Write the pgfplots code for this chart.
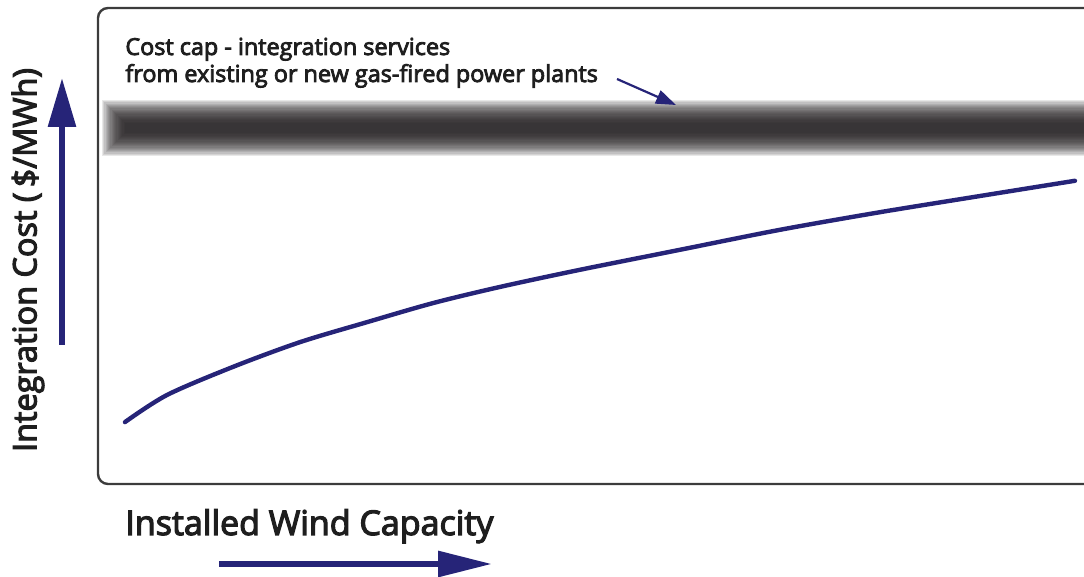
\documentclass[border=0pt]{standalone}
\usepackage{pgfplots}
\pgfplotsset{compat=1.18}
\usepackage{fontspec}
\setmainfont{Open Sans}
\newfontfamily\labelfont{Open Sans}[FakeBold=3.5]
\usetikzlibrary{arrows.meta}
\definecolor{navy}{RGB}{38,36,120}
\definecolor{framegray}{RGB}{60,60,60}
\definecolor{capgray}{RGB}{30,26,28}
\definecolor{txtgray}{RGB}{30,30,30}
\begin{document}
\begin{tikzpicture}
\path[use as bounding box] (0pt,0pt) rectangle (542pt,288.5pt);
\clip (0pt,0pt) rectangle (542pt,288.5pt);
\begin{axis}[
  name=ax,
  at={(49pt,46.5pt)}, anchor=south west,
  scale only axis, width=501pt, height=238pt,
  xmin=0, xmax=100, ymin=0, ymax=100,
  hide axis,
  capband/.style={capgray, opacity=0.1, forget plot},
]
% cost cap band (blurred)
\addplot[capband, line width=28pt] coordinates {(0.40,74.8) (100,74.8)};
\addplot[capband, line width=26.8pt] coordinates {(0.52,74.8) (100,74.8)};
\addplot[capband, line width=25.6pt] coordinates {(0.64,74.8) (100,74.8)};
\addplot[capband, line width=24.4pt] coordinates {(0.76,74.8) (100,74.8)};
\addplot[capband, line width=23.2pt] coordinates {(0.88,74.8) (100,74.8)};
\addplot[capband, line width=22pt] coordinates {(1.00,74.8) (100,74.8)};
\addplot[capband, line width=20.8pt] coordinates {(1.12,74.8) (100,74.8)};
\addplot[capband, line width=19.6pt] coordinates {(1.24,74.8) (100,74.8)};
\addplot[capband, line width=18.4pt] coordinates {(1.36,74.8) (100,74.8)};
\addplot[capband, line width=17.2pt] coordinates {(1.48,74.8) (100,74.8)};
\addplot[capband, line width=16pt] coordinates {(1.60,74.8) (100,74.8)};
\addplot[capband, line width=14.8pt] coordinates {(1.72,74.8) (100,74.8)};
\addplot[capband, line width=13.6pt] coordinates {(1.84,74.8) (100,74.8)};
\addplot[capband, line width=12.4pt] coordinates {(1.96,74.8) (100,74.8)};
\addplot[capband, line width=11.2pt] coordinates {(2.08,74.8) (100,74.8)};
\addplot[capband, line width=10pt] coordinates {(2.20,74.8) (100,74.8)};
\addplot[capband, line width=8.8pt] coordinates {(2.32,74.8) (100,74.8)};
\addplot[capband, line width=7.6pt] coordinates {(2.44,74.8) (100,74.8)};
\addplot[capband, line width=6.4pt] coordinates {(2.56,74.8) (100,74.8)};
\addplot[capband, line width=5.2pt] coordinates {(2.68,74.8) (100,74.8)};
% integration cost curve
\addplot[navy, line width=2.2pt, smooth, line cap=round] coordinates {
 (2.69,13.0) (6.89,18.7) (13.47,24.6) (20.16,29.8) (26.85,34.0) (33.43,38.0)
 (40.12,41.4) (48.10,45.0) (58.08,49.2) (68.06,53.4) (78.04,57.1) (88.02,60.5) (97.50,63.7)
};
\end{axis}
\draw[framegray, line width=1.2pt, rounded corners=5pt] (ax.south west) rectangle (ax.north east);
% annotation
\node[anchor=base west, inner sep=0pt, text=txtgray, font=\labelfont\fontsize{11.7}{14}\selectfont] at (62.5pt,261pt) {Cost cap - integration services};
\node[anchor=base west, inner sep=0pt, text=txtgray, font=\labelfont\fontsize{11.7}{14}\selectfont] at (62.5pt,247.5pt) {from existing or new gas-fired power plants};
\draw[navy, line width=1.1pt, -{Triangle[length=10pt, width=7pt]}] (308.5pt,249pt) -- (338pt,236pt);
% axis labels
\node[rotate=90, inner sep=0pt, text=txtgray, font=\labelfont\fontsize{16.2}{19}\selectfont] at (14pt,158.5pt) {Integration Cost (\,\$/MWh)};
\node[anchor=base west, inner sep=0pt, text=txtgray, font=\labelfont\fontsize{17}{20}\selectfont] at (62.5pt,21pt) {Installed Wind Capacity};
% arrows
\draw[navy, line width=3pt, -{Triangle[length=24.5pt, width=13.5pt]}] (31pt,116pt) -- (31pt,249.5pt);
\draw[navy, line width=3pt, -{Triangle[length=27pt, width=12.5pt]}] (109.5pt,6.5pt) -- (246pt,6.5pt);
\end{tikzpicture}
\end{document}
